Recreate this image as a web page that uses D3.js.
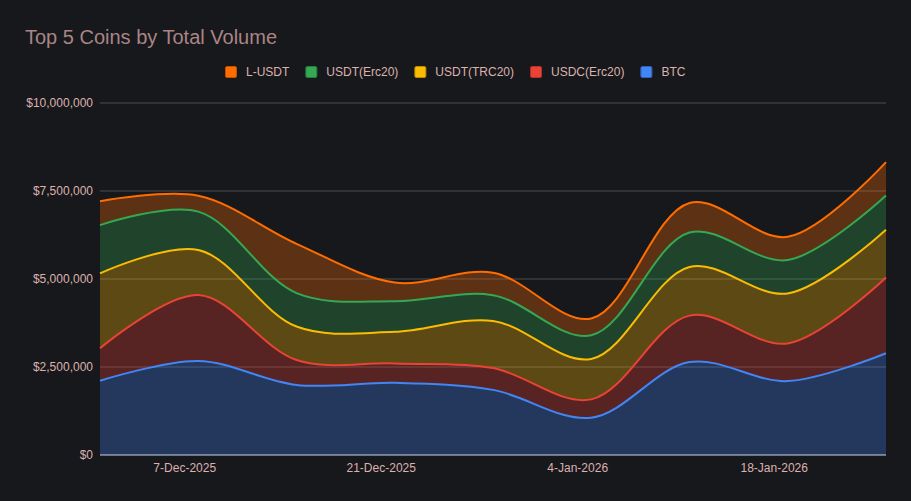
<!DOCTYPE html>
<html>
<head>
<meta charset="utf-8">
<script src="https://cdn.jsdelivr.net/npm/d3@7"></script>
<style>
  html, body { margin: 0; padding: 0; background: #17181c; }
  svg { display: block; font-family: "Liberation Sans", Arial, sans-serif; }
</style>
</head>
<body>
<svg id="chart" width="911" height="501"></svg>
<script>
'use strict';

// weekly totals
var weeks = ['2025-12-01', '2025-12-08', '2025-12-15', '2025-12-22', '2025-12-29',
             '2026-01-05', '2026-01-12', '2026-01-19', '2026-01-26'];
var btc    = [2110000, 2670000, 1990000, 2050000, 1850000, 1060000, 2640000, 2100000, 2890000];
var usdc   = [ 920000, 1875000,  710000,  550000,  620000,  520000, 1320000, 1070000, 2150000];
var trc20  = [2130000, 1280000,  950000,  900000, 1340000, 1150000, 1380000, 1420000, 1360000];
var erc20  = [1370000, 1090000,  950000,  870000,  730000,  670000,  980000,  950000,  970000];
var lusdt  = [ 680000,  450000, 1400000,  530000,  640000,  480000,  840000,  660000,  950000];

var xTicks = ['2025-12-07', '2025-12-21', '2026-01-04', '2026-01-18'];
var yTicks = [0, 2500000, 5000000, 7500000, 10000000];

// bottom to top of the stack
var series = [
  { key: 'btc',   name: 'BTC',         color: '#4285f4', values: btc },
  { key: 'usdc',  name: 'USDC(Erc20)', color: '#ea4335', values: usdc },
  { key: 'trc20', name: 'USDT(TRC20)', color: '#fbbc04', values: trc20 },
  { key: 'erc20', name: 'USDT(Erc20)', color: '#34a853', values: erc20 },
  { key: 'lusdt', name: 'L-USDT',      color: '#ff6d00', values: lusdt }
];

var parse = d3.timeParse('%Y-%m-%d');
var rows = weeks.map(function (w, i) {
  var r = { date: parse(w) };
  series.forEach(function (s) { r[s.key] = s.values[i]; });
  return r;
});

var svg = d3.select('#chart');
var W = 911, H = 501;
var m = { left: 100, right: 25, top: 103, bottom: 46 };

var x = d3.scaleTime()
  .domain(d3.extent(rows, function (d) { return d.date; }))
  .range([m.left, W - m.right]);
var y = d3.scaleLinear()
  .domain([0, 10000000])
  .range([H - m.bottom, m.top]);

var labelColor = '#dcb1ae';

svg.append('rect').attr('width', W).attr('height', H).attr('fill', '#17181c');

// title
svg.append('text')
  .attr('x', 25).attr('y', 44)
  .attr('font-size', 20)
  .attr('fill', '#a98586')
  .text('Top 5 Coins by Total Volume');

// gridlines
svg.append('g')
  .selectAll('line')
  .data(yTicks.slice(1))
  .enter().append('line')
  .attr('x1', m.left).attr('x2', W - m.right)
  .attr('y1', function (d) { return y(d); })
  .attr('y2', function (d) { return y(d); })
  .attr('stroke', '#4d4d50')
  .attr('stroke-width', 1);

var stack = d3.stack().keys(series.map(function (s) { return s.key; }));
var layers = stack(rows);

var curve = d3.curveCatmullRom.alpha(0.5);

var area = d3.area()
  .curve(curve)
  .x(function (d) { return x(d.data.date); })
  .y0(function (d) { return y(d[0]); })
  .y1(function (d) { return y(d[1]); });

var line = d3.line()
  .curve(curve)
  .x(function (d) { return x(d.data.date); })
  .y(function (d) { return y(d[1]); });

svg.append('g')
  .selectAll('path')
  .data(layers)
  .enter().append('path')
  .attr('d', area)
  .attr('fill', function (d, i) { return series[i].color; })
  .attr('fill-opacity', 0.3);

// baseline
svg.append('line')
  .attr('x1', m.left).attr('x2', W - m.right)
  .attr('y1', y(0)).attr('y2', y(0))
  .attr('stroke', '#c9d3ea')
  .attr('stroke-width', 1);

svg.append('g')
  .selectAll('path')
  .data(layers)
  .enter().append('path')
  .attr('d', line)
  .attr('fill', 'none')
  .attr('stroke', function (d, i) { return series[i].color; })
  .attr('stroke-width', 2);

// y axis
var yAxis = d3.axisLeft(y)
  .tickValues(yTicks)
  .tickSize(0)
  .tickPadding(7)
  .tickFormat(d3.format('$,.0f'));
var yg = svg.append('g')
  .attr('transform', 'translate(' + m.left + ',0)')
  .call(yAxis);
yg.select('.domain').remove();
yg.selectAll('text')
  .attr('font-size', 12)
  .attr('font-family', '"Liberation Sans", Arial, sans-serif')
  .attr('fill', labelColor);

// x axis
var xAxis = d3.axisBottom(x)
  .tickValues(xTicks.map(parse))
  .tickSize(0)
  .tickPadding(8)
  .tickFormat(d3.timeFormat('%-d-%b-%Y'));
var xg = svg.append('g')
  .attr('transform', 'translate(0,' + y(0) + ')')
  .call(xAxis);
xg.select('.domain').remove();
xg.selectAll('text')
  .attr('font-size', 12)
  .attr('font-family', '"Liberation Sans", Arial, sans-serif')
  .attr('fill', labelColor);

// legend, top of stack first, centred
var legend = svg.append('g');
var items = series.slice().reverse();
var cursor = 0;
items.forEach(function (s) {
  var g = legend.append('g').attr('transform', 'translate(' + cursor + ',0)');
  g.append('rect')
    .attr('x', 0.5).attr('y', -5.5)
    .attr('width', 11).attr('height', 11)
    .attr('rx', 1.5)
    .attr('fill', s.color)
    .attr('stroke', d3.color(s.color).darker(0.8))
    .attr('stroke-width', 1);
  var t = g.append('text')
    .attr('x', 21).attr('y', 4.3)
    .attr('font-size', 12)
    .attr('fill', labelColor)
    .text(s.name);
  cursor += 21 + t.node().getComputedTextLength() + 16;
});
cursor -= 16;
legend.attr('transform', 'translate(' + Math.round((W - cursor) / 2) + ',72)');
</script>
</body>
</html>
